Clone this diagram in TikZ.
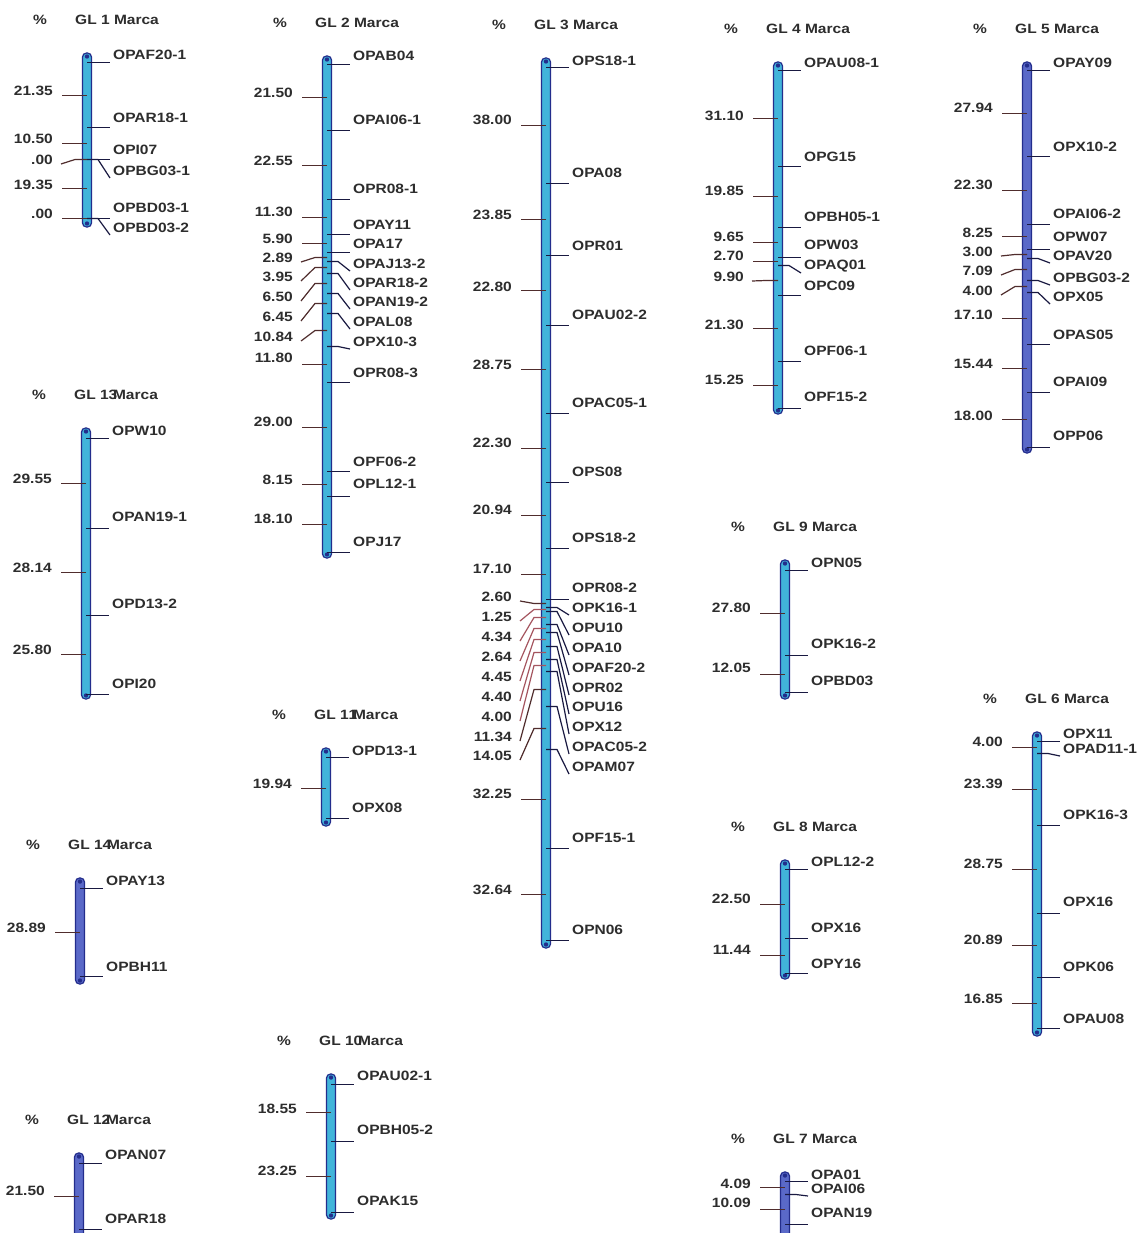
\documentclass[tikz,border=0pt]{standalone}
\usepackage{fontspec}
\setmainfont{Liberation Sans}[FakeStretch=1.15]
\definecolor{barcyan}{RGB}{65,180,218}
\definecolor{barblue}{RGB}{90,105,200}
\definecolor{baredge}{RGB}{35,45,140}
\definecolor{rcol}{RGB}{25,25,65}
\definecolor{tcol}{RGB}{80,45,45}
\definecolor{scol}{RGB}{165,85,95}
\definecolor{txt}{RGB}{45,45,45}
\tikzset{
 lab/.style={inner sep=0pt,font=\fontsize{13.5}{13.5}\selectfont\bfseries,text=txt},
 hdr/.style={inner sep=0pt,font=\fontsize{13.5}{13.5}\selectfont\bfseries,text=txt},
 rline/.style={draw=rcol,line width=1.5pt},
 tline/.style={draw=tcol,line width=1.5pt},
 chrbar/.style={draw=baredge,line width=1.2pt,rounded corners=4pt},
 enddot/.style={fill=baredge,draw=none},
}
\newcount\nc
% chromosome: bar x, top, bottom, fill, title
\newcommand\chromo[5]{%
 \global\advance\nc by 1
 \node[hdr] (pc\the\nc) at (#1-47,#2-33) {\%};
 \node[hdr,anchor=west] (gl\the\nc) at (#1-12,#2-33) {#5};
 \path[chrbar,fill=#4] (#1-4.5,#2) rectangle (#1+4.5,#3);
 \fill[enddot] (#1,#2+3.5) circle (2.2pt);
 \fill[enddot] (#1,#3-3.5) circle (2.2pt);
}
% straight marker: bar x, marker y, label y, text
\newcommand\mkr[4]{%
 \global\advance\nc by 1
 \pgfmathsetmacro\yy{round(#2)+0.5}%
 \node[lab,anchor=west] (r\the\nc) at (#1+26,#3) {#4};
 \draw[rline] (#1,\yy) -- ++(23,0);
}
% slanted marker
\newcommand\mks[4]{%
 \global\advance\nc by 1
 \pgfmathsetmacro\yy{round(#2)+0.5}%
 \node[lab,anchor=west] (r\the\nc) at (#1+26,#3) {#4};
 \draw[rline,line width=1.2pt] (#1,\yy) -- ++(11,0) -- ([xshift=-3pt,yshift=-7pt]r\the\nc.west);
}
% straight interval tick
\newcommand\tkl[4]{%
 \global\advance\nc by 1
 \pgfmathsetmacro\yy{round(#2)+0.5}%
 \node[lab,anchor=east] (t\the\nc) at (#1-34,#3) {#4};
 \draw[tline] (#1,\yy) -- ++(-25,0);
}
% slanted interval tick, optional colour
\newcommand\tks[5][tcol]{%
 \global\advance\nc by 1
 \pgfmathsetmacro\yy{round(#3)+0.5}%
 \node[lab,anchor=east] (t\the\nc) at (#2-34,#4) {#5};
 \draw[tline,line width=1.2pt,draw=#1] (#2,\yy) -- ++(-12,0) -- ([xshift=8pt,yshift=-4pt]t\the\nc.east);
}
\begin{document}
\begin{tikzpicture}[x=1pt,y=-1pt]
\fill[white] (0,0) rectangle (1142,1233);
\useasboundingbox (0,0) rectangle (1142,1233);
\clip (0,0) rectangle (1142,1233);
% GL1
\chromo{87}{53}{227}{barcyan}{GL 1 Marca}
\mkr{87}{62}{55}{OPAF20-1}
\mkr{87}{126.9}{118}{OPAR18-1}
\mkr{87}{158.8}{150}{OPI07}
\mks{87}{158.8}{171}{OPBG03-1}
\mkr{87}{217.6}{208}{OPBD03-1}
\mks{87}{217.6}{228}{OPBD03-2}
\tkl{87}{94.5}{91}{21.35}
\tkl{87}{142.9}{139}{10.50}
\tks{87}{158.8}{160}{.00}
\tkl{87}{188.2}{185}{19.35}
\tkl{87}{217.6}{214}{.00}
% GL2
\chromo{327}{56}{558}{barcyan}{GL 2 Marca}
\mkr{327}{64}{56}{OPAB04}
\mkr{327}{130}{120}{OPAI06-1}
\mkr{327}{199.2}{189}{OPR08-1}
\mkr{327}{233.9}{225}{OPAY11}
\mkr{327}{252}{244}{OPA17}
\mks{327}{260.9}{264}{OPAJ13-2}
\mks{327}{273}{283}{OPAR18-2}
\mks{327}{293}{302}{OPAN19-2}
\mks{327}{312.8}{322}{OPAL08}
\mks{327}{346.1}{342}{OPX10-3}
\mkr{327}{382.3}{373}{OPR08-3}
\mkr{327}{471.3}{462}{OPF06-2}
\mkr{327}{496.3}{484}{OPL12-1}
\mkr{327}{551.9}{542}{OPJ17}
\tkl{327}{97}{93}{21.50}
\tkl{327}{164.6}{161}{22.55}
\tkl{327}{216.6}{212}{11.30}
\tkl{327}{243}{239}{5.90}
\tks{327}{256.5}{258}{2.89}
\tks{327}{267}{277}{3.95}
\tks{327}{283}{297}{6.50}
\tks{327}{302.9}{317}{6.45}
\tks{327}{329.5}{337}{10.84}
\tkl{327}{364.2}{358}{11.80}
\tkl{327}{426.8}{422}{29.00}
\tkl{327}{483.8}{480}{8.15}
\tkl{327}{524.1}{519}{18.10}
% GL3
\chromo{546}{58}{948}{barcyan}{GL 3 Marca}
\mkr{546}{67}{61}{OPS18-1}
\mkr{546}{183}{173}{OPA08}
\mkr{546}{255}{246}{OPR01}
\mkr{546}{325}{315}{OPAU02-2}
\mkr{546}{413}{403}{OPAC05-1}
\mkr{546}{482}{472}{OPS08}
\mkr{546}{548}{538}{OPS18-2}
\mkr{546}{599}{588}{OPR08-2}
\mks{546}{606.9}{608}{OPK16-1}
\mks{546}{610.8}{628}{OPU10}
\mks{546}{624}{648}{OPA10}
\mks{546}{632.1}{668}{OPAF20-2}
\mks{546}{645.7}{688}{OPR02}
\mks{546}{659.1}{707}{OPU16}
\mks{546}{671.4}{727}{OPX12}
\mks{546}{706.1}{747}{OPAC05-2}
\mks{546}{749}{767}{OPAM07}
\mkr{546}{848}{838}{OPF15-1}
\mkr{546}{940}{930}{OPN06}
\tkl{546}{125}{120}{38.00}
\tkl{546}{219}{215}{23.85}
\tkl{546}{290}{287}{22.80}
\tkl{546}{369}{365}{28.75}
\tkl{546}{447.5}{443}{22.30}
\tkl{546}{515}{510}{20.94}
\tkl{546}{573.5}{569}{17.10}
\tks{546}{603}{597}{2.60}
\tks[scol]{546}{608.9}{617}{1.25}
\tks[scol]{546}{617.4}{637}{4.34}
\tks[scol]{546}{628}{657}{2.64}
\tks[scol]{546}{638.9}{677}{4.45}
\tks[scol]{546}{652.4}{697}{4.40}
\tks[scol]{546}{665.2}{717}{4.00}
\tks{546}{688.7}{737}{11.34}
\tks{546}{727.5}{756}{14.05}
\tkl{546}{798.5}{794}{32.25}
\tkl{546}{894}{890}{32.64}
% GL4
\chromo{778}{62}{414}{barcyan}{GL 4 Marca}
\mkr{778}{70}{63}{OPAU08-1}
\mkr{778}{165.8}{157}{OPG15}
\mkr{778}{226.9}{217}{OPBH05-1}
\mkr{778}{256.6}{245}{OPW03}
\mks{778}{264.9}{266}{OPAQ01}
\mkr{778}{295.4}{286}{OPC09}
\mkr{778}{361}{351}{OPF06-1}
\mkr{778}{408}{397}{OPF15-2}
\tkl{778}{117.9}{116}{31.10}
\tkl{778}{196.4}{191}{19.85}
\tkl{778}{241.8}{237}{9.65}
\tkl{778}{260.8}{256}{2.70}
\tks{778}{280.2}{277}{9.90}
\tkl{778}{328.2}{325}{21.30}
\tkl{778}{384.5}{380}{15.25}
% GL5
\chromo{1027}{62}{453}{barblue}{GL 5 Marca}
\mkr{1027}{70}{63}{OPAY09}
\mkr{1027}{155.5}{147}{OPX10-2}
\mkr{1027}{223.7}{214}{OPAI06-2}
\mkr{1027}{249}{237}{OPW07}
\mks{1027}{258.1}{256}{OPAV20}
\mks{1027}{279.8}{278}{OPBG03-2}
\mks{1027}{292.1}{297}{OPX05}
\mkr{1027}{344.4}{335}{OPAS05}
\mkr{1027}{391.6}{382}{OPAI09}
\mkr{1027}{446.7}{436}{OPP06}
\tkl{1027}{112.8}{108}{27.94}
\tkl{1027}{189.6}{185}{22.30}
\tkl{1027}{236.3}{233}{8.25}
\tks{1027}{253.5}{252}{3.00}
\tks{1027}{269}{271}{7.09}
\tks{1027}{285.9}{291}{4.00}
\tkl{1027}{318.2}{315}{17.10}
\tkl{1027}{368}{364}{15.44}
\tkl{1027}{419.2}{416}{18.00}
% GL6
\chromo{1037}{732}{1036}{barcyan}{GL 6 Marca}
\mkr{1037}{741}{734}{OPX11}
\mks{1037}{753.2}{749}{OPAD11-1}
\mkr{1037}{824.8}{815}{OPK16-3}
\mkr{1037}{912.8}{902}{OPX16}
\mkr{1037}{976.7}{967}{OPK06}
\mkr{1037}{1028.3}{1019}{OPAU08}
\tkl{1037}{747.1}{742}{4.00}
\tkl{1037}{789}{784}{23.39}
\tkl{1037}{868.8}{864}{28.75}
\tkl{1037}{944.8}{940}{20.89}
\tkl{1037}{1002.5}{999}{16.85}
% GL7
\chromo{785}{1172}{1245}{barblue}{GL 7 Marca}
\mkr{785}{1181}{1175}{OPA01}
\mks{785}{1193.5}{1189}{OPAI06}
\mkr{785}{1224.4}{1213}{OPAN19}
\tkl{785}{1187.3}{1184}{4.09}
\tkl{785}{1209}{1203}{10.09}
% GL8
\chromo{785}{860}{979}{barcyan}{GL 8 Marca}
\mkr{785}{869}{862}{OPL12-2}
\mkr{785}{937.9}{928}{OPX16}
\mkr{785}{972.9}{964}{OPY16}
\tkl{785}{903.5}{899}{22.50}
\tkl{785}{955.4}{950}{11.44}
% GL9
\chromo{785}{560}{699}{barcyan}{GL 9 Marca}
\mkr{785}{570}{563}{OPN05}
\mkr{785}{655.1}{644}{OPK16-2}
\mkr{785}{692}{681}{OPBD03}
\tkl{785}{612.5}{608}{27.80}
\tkl{785}{673.5}{668}{12.05}
% GL10
\chromo{331}{1074}{1219}{barcyan}{GL 1\rlap{0} Marca}
\mkr{331}{1084}{1076}{OPAU02-1}
\mkr{331}{1140.8}{1130}{OPBH05-2}
\mkr{331}{1211.9}{1201}{OPAK15}
\tkl{331}{1112.4}{1109}{18.55}
\tkl{331}{1176.4}{1171}{23.25}
% GL11
\chromo{326}{748}{826}{barcyan}{GL 1\rlap{1} Marca}
\mkr{326}{757}{751}{OPD13-1}
\mkr{326}{818}{808}{OPX08}
\tkl{326}{787.5}{784}{19.94}
% GL12
\chromo{79}{1153}{1250}{barblue}{GL 1\rlap{2} Marca}
\mkr{79}{1163}{1155}{OPAN07}
\mkr{79}{1228.8}{1219}{OPAR18}
\tkl{79}{1196}{1191}{21.50}
% GL13
\chromo{86}{428}{699}{barcyan}{GL 1\rlap{3} Marca}
\mkr{86}{438}{431}{OPW10}
\mkr{86}{528.4}{517}{OPAN19-1}
\mkr{86}{614.5}{604}{OPD13-2}
\mkr{86}{693.5}{684}{OPI20}
\tkl{86}{483.2}{479}{29.55}
\tkl{86}{571.5}{568}{28.14}
\tkl{86}{654}{650}{25.80}
% GL14
\chromo{80}{878}{984}{barblue}{GL 1\rlap{4} Marca}
\mkr{80}{888}{881}{OPAY13}
\mkr{80}{976.4}{967}{OPBH11}
\tkl{80}{932.2}{928}{28.89}
\end{tikzpicture}
\end{document}
